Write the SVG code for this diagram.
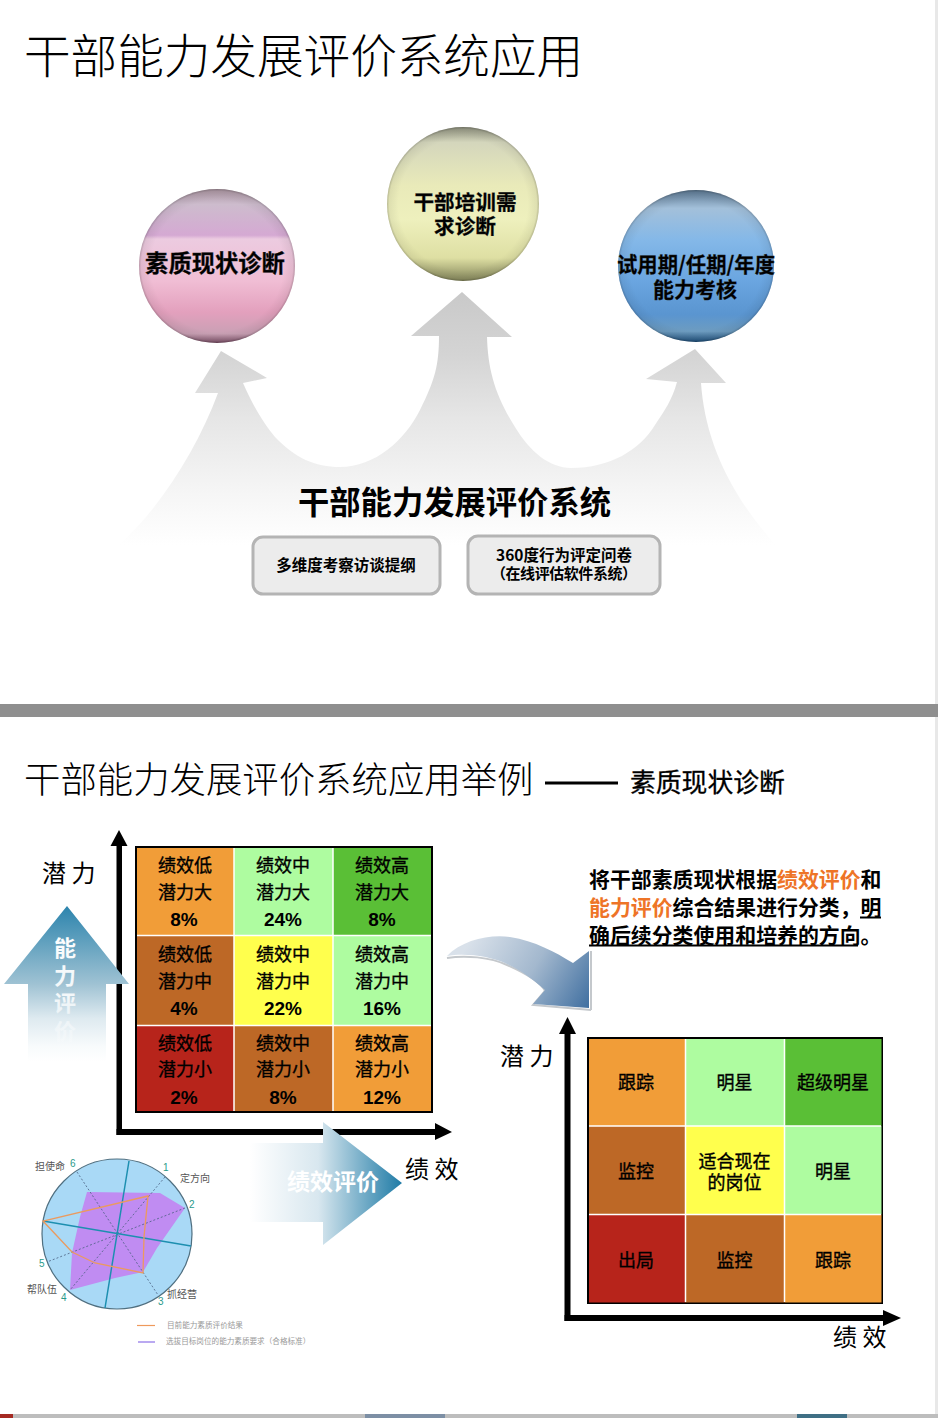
<svg xmlns="http://www.w3.org/2000/svg" width="938" height="1418" viewBox="0 0 938 1418">
<style>
text{font-family:"Noto Sans CJK SC","Noto Sans",sans-serif;dominant-baseline:central;fill:#000}
text:not(.num){transform:translateY(-1.300px)}
.m{text-anchor:middle}
.b{font-weight:700}
.ball{font-weight:700;font-size:21px;text-anchor:middle;stroke:#222;stroke-width:.3px}
.cell{font-size:18px;text-anchor:middle;stroke:#000;stroke-width:.35px}
.num{font-family:"Liberation Sans",Arial,sans-serif;font-weight:700;font-size:19px;text-anchor:middle;dominant-baseline:auto}
.lab{font-size:24px}
.ax{fill:#000}
.div{stroke:#fff;stroke-width:1.500}
.tiny{font-size:10px;fill:#555}
.num2{font-family:"Liberation Sans",Arial,sans-serif;font-size:10px;fill:#2a9a8a}
.leg{font-size:7.600px;fill:#999}
.box{fill:#ececec;stroke:#b4b4b4;stroke-width:3}
</style>
<defs>
<linearGradient id="bigArrow" gradientUnits="userSpaceOnUse" x1="0" y1="292" x2="0" y2="545"><stop offset="0" stop-color="#c9c9c9"/><stop offset=".25" stop-color="#d4d4d4"/><stop offset=".5" stop-color="#e6e6e6"/><stop offset=".8" stop-color="#f6f6f6"/><stop offset="1" stop-color="#fff"/></linearGradient>
<linearGradient id="pink" x1="0" y1="0" x2="0" y2="1"><stop offset="0" stop-color="#a9939f"/><stop offset=".1" stop-color="#cdbccd"/><stop offset=".3" stop-color="#d5a9d3"/><stop offset=".325" stop-color="#eccbe0"/><stop offset=".6" stop-color="#f0bdd4"/><stop offset=".8" stop-color="#e3a0bd"/><stop offset=".94" stop-color="#c9a0b4"/><stop offset="1" stop-color="#7a4f66"/></linearGradient>
<linearGradient id="yel" x1="0" y1="0" x2="0" y2="1"><stop offset="0" stop-color="#8f917e"/><stop offset=".1" stop-color="#d4d6bc"/><stop offset=".38" stop-color="#e9eab9"/><stop offset=".6" stop-color="#eef0bd"/><stop offset=".85" stop-color="#dedfa3"/><stop offset="1" stop-color="#83855a"/></linearGradient>
<linearGradient id="blu" x1="0" y1="0" x2="0" y2="1"><stop offset="0" stop-color="#5a7690"/><stop offset=".12" stop-color="#a3c0da"/><stop offset=".33" stop-color="#84b8e8"/><stop offset=".6" stop-color="#6aa5e0"/><stop offset=".82" stop-color="#5a95d0"/><stop offset=".93" stop-color="#6d9cc0"/><stop offset="1" stop-color="#1f4f7a"/></linearGradient>
<radialGradient id="rim" cx=".5" cy=".5" r=".5"><stop offset=".85" stop-color="#000" stop-opacity="0"/><stop offset=".97" stop-color="#000" stop-opacity=".06"/><stop offset="1" stop-color="#000" stop-opacity=".22"/></radialGradient>
<linearGradient id="upA" gradientUnits="userSpaceOnUse" x1="0" y1="906" x2="0" y2="1062"><stop offset="0" stop-color="#2c84ad"/><stop offset=".5" stop-color="#9fc2d3"/><stop offset=".72" stop-color="#deeaf0"/><stop offset=".9" stop-color="#f8fbfc"/><stop offset="1" stop-color="#fff"/></linearGradient>
<linearGradient id="rightA" gradientUnits="userSpaceOnUse" x1="250" y1="0" x2="402" y2="0"><stop offset="0" stop-color="#fff"/><stop offset=".45" stop-color="#d8e7ef"/><stop offset="1" stop-color="#1f7ba6"/></linearGradient>
<linearGradient id="curve" gradientUnits="userSpaceOnUse" x1="470" y1="940" x2="590" y2="1010"><stop offset="0" stop-color="#d9e1ea"/><stop offset=".5" stop-color="#a3b8ce"/><stop offset="1" stop-color="#3d6d9f"/></linearGradient>
<linearGradient id="upTxt" gradientUnits="userSpaceOnUse" x1="0" y1="935" x2="0" y2="1040"><stop offset="0" stop-color="#fff"/><stop offset=".6" stop-color="#fff" stop-opacity=".85"/><stop offset="1" stop-color="#fff" stop-opacity=".2"/></linearGradient>
<filter id="soft" x="-5%" y="-5%" width="110%" height="110%"><feGaussianBlur stdDeviation=".5"/></filter>
</defs>
<rect width="938" height="1418" fill="#fff"/>
<rect x="935" y="0" width="3" height="1418" fill="#e8e8e8"/>
<rect x="0" y="704" width="938" height="13" fill="#8f8f8f"/>
<rect x="0" y="1414" width="938" height="4" fill="#bdbdbd"/>
<rect x="0" y="1414" width="13" height="4" fill="#a52a22"/>
<rect x="365" y="1414" width="80" height="4" fill="#7d8fa5"/>
<rect x="797" y="1414" width="50" height="4" fill="#3f6f85"/>

<text x="24" y="54" font-size="46.600" style="font-weight:300">干部能力发展评价系统应用</text>
<text x="24" y="778" font-size="36.400" style="font-weight:300">干部能力发展评价系统应用举例</text>
<text x="630" y="782" font-size="25.800" style="stroke:#000;stroke-width:.3px">素质现状诊断</text>

<g id="connectors">
<path id="growth-arrow" fill="url(#bigArrow)" d="M100 560C150 525 195 455 218 393L195 393L221 351L267 378L243 383C255 410 265 425 275 437C295 458 315 467 340 467C375 467 405 440 420 410C435 380 439 365 439 336L411 336L462 292L512 337L487 337C488 370 495 395 515 427C530 452 550 468 571 468C610 468 640 450 655 425C665 410 672 400 677 382L646 379L695 349L726 383L701 383C705 440 730 500 790 560Z"/>
<rect x="545" y="781.500" width="73" height="3" fill="#000"/>
<path id="axis-left-y" class="ax" d="M116.500 1135V846H110.500L119 830L127.500 846H122V1135Z"/>
<path id="axis-left-x" class="ax" d="M116.500 1129H435V1123L452 1132L435 1140V1135H116.500Z"/>
<path id="up-arrow" fill="url(#upA)" d="M67 906L129 984H106V1062H28V984H4Z"/>
<path id="right-arrow" fill="url(#rightA)" d="M250 1143H323V1122L402 1183L323 1245V1222H250Z"/>
<path id="axis-right-y" class="ax" d="M564.500 1321V1034H559L567.500 1017L576 1034H570.500V1321Z"/>
<path id="axis-right-x" class="ax" d="M564.500 1315H883V1310L901 1318L883 1326V1321H564.500Z"/>
<path d="M447 958C465 955 490 957 507 965C525 973 540 981 545 991L533 1005L591 1010" fill="none" stroke="#c4c8cc" stroke-width="2"/>
<path d="M591 1010V951" fill="none" stroke="#c4c8cc" stroke-width="2"/>
<path id="curve-arrow" fill="url(#curve)" d="M447 956C462 940 490 934 510 937C535 941 555 952 573 963L589 951V1008L533 1004L545 990C530 977 520 970 507 964C490 956 465 953 447 956Z"/>
</g>

<g id="ball-pink"><ellipse cx="217" cy="266" rx="78" ry="77" fill="url(#pink)"/><ellipse cx="217" cy="266" rx="78" ry="77" fill="url(#rim)"/><text x="215" y="263" class="ball" style="font-size:23.300px">素质现状诊断</text></g>
<g id="ball-yellow"><ellipse cx="463" cy="204" rx="76" ry="77" fill="url(#yel)"/><ellipse cx="463" cy="204" rx="76" ry="77" fill="url(#rim)"/><text x="465" y="202" class="ball" style="font-size:20.600px">干部培训需</text><text x="465" y="226" class="ball" style="font-size:20.600px">求诊断</text></g>
<g id="ball-blue"><ellipse cx="696" cy="266" rx="78" ry="76" fill="url(#blu)"/><ellipse cx="696" cy="266" rx="78" ry="76" fill="url(#rim)"/><text x="696" y="264" class="ball" textLength="158" lengthAdjust="spacingAndGlyphs">试用期/任期/年度</text><text x="695" y="289" class="ball">能力考核</text></g>

<g id="system"><text x="454.500" y="502" class="m b" font-size="31.300">干部能力发展评价系统</text></g>
<g id="box-outline"><rect class="box" x="253" y="537" width="187" height="57" rx="10"/><text x="346" y="565" class="m b" font-size="15.500">多维度考察访谈提纲</text></g>
<g id="box-360"><rect class="box" x="468" y="536" width="192" height="58" rx="10"/><text x="564" y="555" class="m b" font-size="15.500">360度行为评定问卷</text><text x="564" y="574" class="m b" font-size="15" textLength="146">（在线评估软件系统）</text></g>

<g id="matrix-left">
<rect x="135" y="846" width="298" height="267" fill="#000"/>
<rect x="137" y="848" width="97" height="87" fill="#f19d38"/><rect x="234" y="848" width="99" height="87" fill="#aefca0"/><rect x="333" y="848" width="98" height="87" fill="#5abf36"/>
<rect x="137" y="935" width="97" height="90" fill="#bd6826"/><rect x="234" y="935" width="99" height="90" fill="#ffff4d"/><rect x="333" y="935" width="98" height="90" fill="#aefca0"/>
<rect x="137" y="1025" width="97" height="86" fill="#b7241b"/><rect x="234" y="1025" width="99" height="86" fill="#bd6826"/><rect x="333" y="1025" width="98" height="86" fill="#f19d38"/>
<path class="div" d="M234 848V1111M333 848V1111M137 935.500H431M137 1025.500H431"/>
<text class="cell" x="185" y="865">绩效低</text><text class="cell" x="185" y="892">潜力大</text><text class="num" x="184" y="926">8%</text>
<text class="cell" x="283" y="865">绩效中</text><text class="cell" x="283" y="892">潜力大</text><text class="num" x="283" y="926">24%</text>
<text class="cell" x="382" y="865">绩效高</text><text class="cell" x="382" y="892">潜力大</text><text class="num" x="382" y="926">8%</text>
<text class="cell" x="185" y="954">绩效低</text><text class="cell" x="185" y="981">潜力中</text><text class="num" x="184" y="1015">4%</text>
<text class="cell" x="283" y="954">绩效中</text><text class="cell" x="283" y="981">潜力中</text><text class="num" x="283" y="1015">22%</text>
<text class="cell" x="382" y="954">绩效高</text><text class="cell" x="382" y="981">潜力中</text><text class="num" x="382" y="1015">16%</text>
<text class="cell" x="185" y="1043">绩效低</text><text class="cell" x="185" y="1069">潜力小</text><text class="num" x="184" y="1104">2%</text>
<text class="cell" x="283" y="1043">绩效中</text><text class="cell" x="283" y="1069">潜力小</text><text class="num" x="283" y="1104">8%</text>
<text class="cell" x="382" y="1043">绩效高</text><text class="cell" x="382" y="1069">潜力小</text><text class="num" x="382" y="1104">12%</text>
</g>

<g id="labels-left">
<text class="lab" x="42" y="873">潜 力</text>
<text class="lab" x="405" y="1169">绩 效</text>
<text x="65" y="947" class="m b" font-size="22" style="fill:url(#upTxt)">能</text>
<text x="65" y="975" class="m b" font-size="22" style="fill:url(#upTxt)">力</text>
<text x="65" y="1002" class="m b" font-size="22" style="fill:url(#upTxt)">评</text>
<text x="65" y="1030" class="m b" font-size="22" style="fill:url(#upTxt)">价</text>
<text x="333" y="1181" class="m b" font-size="23" style="fill:#fff">绩效评价</text>
</g>

<g id="radar">
<g filter="url(#soft)">
<circle cx="117" cy="1234" r="75" fill="#a9d9f6" stroke="#4f6f80" stroke-width="1.200"/>
<path d="M87 1192L160 1193L185 1208L157 1248L143 1272L115 1278L70 1290L72 1253L80 1217Z" fill="#c08cf2"/>
<path d="M165 1177L70 1290M77 1172L158 1295M185 1208L47 1262" stroke="#4a5f80" stroke-width=".8" stroke-dasharray="2 2" fill="none"/>
<path d="M129 1161L105 1308M43 1221L191 1246" stroke="#1e8fb0" stroke-width="1.500" fill="none"/>
<path d="M148 1196L43 1221L72 1252L95 1263L143 1273L144 1237Z" stroke="#eb9a5e" stroke-width="1.300" fill="none"/>
<path d="M137 1325.500H155" stroke="#ee9a5c" stroke-width="1.200"/>
<path d="M138 1342H155" stroke="#8b6fe8" stroke-width="1.200"/>
</g>
<text class="tiny" x="35" y="1167">担使命</text><text class="num2" x="70" y="1165">6</text>
<text class="num2" x="163" y="1169">1</text><text class="tiny" x="180" y="1179">定方向</text>
<text class="num2" x="189" y="1206">2</text><text class="num2" x="158" y="1303">3</text>
<text class="tiny" x="167" y="1295">抓经营</text><text class="tiny" x="27" y="1290">帮队伍</text>
<text class="num2" x="61" y="1299">4</text><text class="num2" x="39" y="1265">5</text>
<text class="leg" x="167" y="1325.500">目前能力素质评价结果</text>
<text class="leg" x="166" y="1341.500">选拔目标岗位的能力素质要求（合格标准）</text>
</g>

<g id="note" font-size="20.900" font-weight="700">
<text x="589" y="879">将干部素质现状根据<tspan style="fill:#ee7427">绩效评价</tspan>和</text>
<text x="589" y="907"><tspan style="fill:#ee7427">能力评价</tspan>综合结果进行分类，明</text>
<text x="589" y="935">确后续分类使用和培养的方向。</text>
<path d="M860 917.500H881M589 945.500H858" stroke="#000" stroke-width="1.800"/>
</g>

<g id="matrix-right">
<rect x="587" y="1037" width="296" height="267" fill="#000"/>
<rect x="589" y="1039" width="96" height="87" fill="#f19d38"/><rect x="685" y="1039" width="99.500" height="87" fill="#aefca0"/><rect x="784.500" y="1039" width="97" height="87" fill="#5abf36"/>
<rect x="589" y="1126" width="96" height="88.500" fill="#bd6826"/><rect x="685" y="1126" width="99.500" height="88.500" fill="#ffff4d"/><rect x="784.500" y="1126" width="97" height="88.500" fill="#aefca0"/>
<rect x="589" y="1214.500" width="96" height="88" fill="#b7241b"/><rect x="685" y="1214.500" width="99.500" height="88" fill="#bd6826"/><rect x="784.500" y="1214.500" width="97" height="88" fill="#f19d38"/>
<path class="div" d="M685.500 1039V1302M784.500 1039V1302M589 1126H881M589 1214.500H881"/>
<text class="cell" x="636" y="1082">跟踪</text><text class="cell" x="734.500" y="1082">明星</text><text class="cell" x="833" y="1082">超级明星</text>
<text class="cell" x="636" y="1171">监控</text><text class="cell" x="734.500" y="1161">适合现在</text><text class="cell" x="734.500" y="1182">的岗位</text><text class="cell" x="833" y="1171">明星</text>
<text class="cell" x="636" y="1260">出局</text><text class="cell" x="734.500" y="1260">监控</text><text class="cell" x="833" y="1260">跟踪</text>
</g>
<g id="labels-right">
<text class="lab" x="500" y="1056">潜 力</text>
<text class="lab" x="833" y="1337">绩 效</text>
</g>
</svg>
